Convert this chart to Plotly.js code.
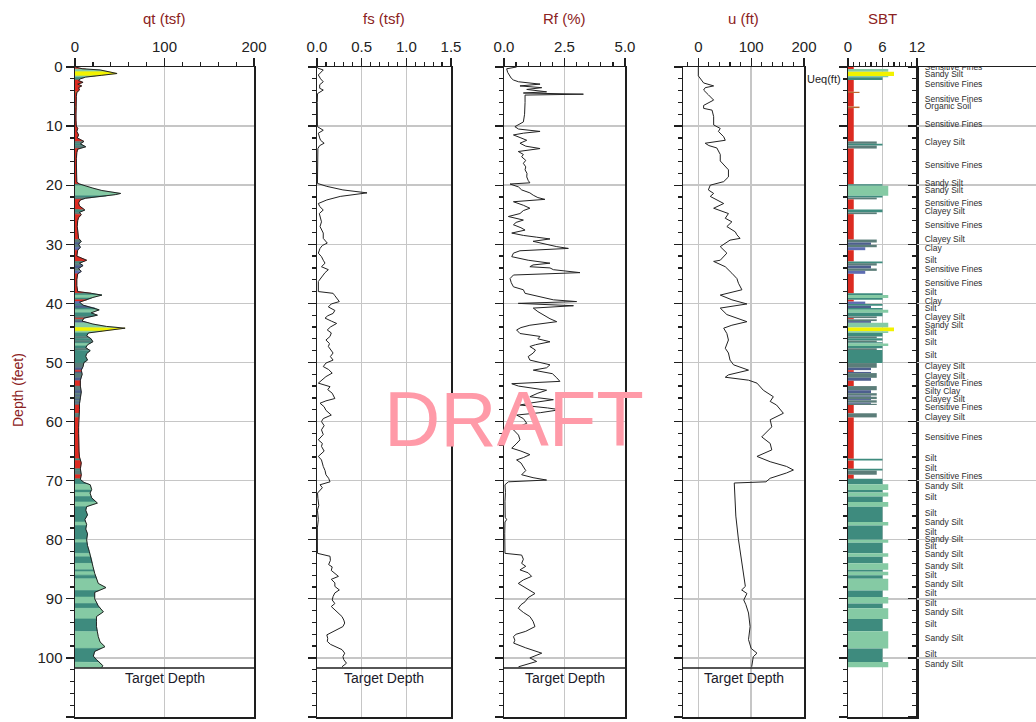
<!DOCTYPE html>
<html><head><meta charset="utf-8">
<script src="https://cdn.plot.ly/plotly-3.0.1.min.js"></script>
<style>html,body{margin:0;padding:0;background:#fff;} #chart{width:1036px;height:722px;}</style>
</head><body><div id="chart"></div>
<script>
// ---------------- DATA ----------------
const qtDepth = [0,0.3,0.5,0.8,1.1,1.4,1.7,2.0,2.3,2.6,
  2.9,3.2,3.5,3.9,4.3,5,6,7,8,9,
  10,10.4,10.9,11.5,12,12.6,13,13.5,13.9,14.5,
  15.5,16.5,17.5,18.5,19.5,19.8,20.1,20.5,20.9,21.2,
  21.4,21.6,21.9,22.2,22.5,23,23.5,24.2,24.6,25,
  25.5,26,27,28,29,29.5,30,30.5,31,32,
  32.7,33.2,33.6,34.1,34.6,35,36,37,38,38.3,
  38.6,39,39.4,39.8,40.3,40.8,41.1,41.6,42,42.5,
  43,43.5,43.9,44.2,44.6,45,45.5,46,46.5,47,
  47.5,48,48.5,49,49.6,50,50.7,51.3,52,53,
  54,55,56,57,58,59,60,61,62,63,
  64,65,66,67,68,69,69.8,70.3,70.7,71.5,
  72.1,72.9,73.8,74.4,75,75.8,76.6,77.4,78.2,79,
  80,81,82,83.4,84.5,85.7,86.5,87.4,88.1,88.9,
  90,91.2,92.2,93,93.8,94.7,95.6,96.4,97.3,98.1,
  98.9,99.7,100.3,100.8,101.3,101.6];
const qtValue = [0.5,8,28,38,47,30,12,6,4,9,
  3,7.5,4,5,2,1.5,1.2,1.3,1,1,
  1.5,3,2,4,2.5,10,6,12,3,2,
  1.5,1.5,1.5,1.8,2,5,11,20,30,43,
  51,45,30,12,6,4,5,11,5,7,
  4,3,2.5,3,4,7,4,6,3,2,
  13,5,9,4,7,3,2,2,3,18,
  30,20,13,5,9,22,27,18,25,10,
  8,20,35,56,35,15,13,18,20,14,
  12,17,13,12,14,10,9,7,8,6,
  6,7,6,5,5,4.5,4,4,4,4,
  4,4.5,5,7,6,7,6,10,17,18.6,
  16.8,18.6,25,13,12,14,11,13,12,14,
  13,14,16,18.6,20,22,24,26,34.6,22,
  22,26,31.7,24,24,24,25,26,28,33.5,
  22,20.5,24,28,31,30];

const fsDepth = [0,0.2,0.5,1.0,1.35,2.0,2.5,3.0,3.6,3.9,
  4.5,6,8,10.1,10.7,11.2,12.0,12.4,12.9,13.3,
  13.8,16,19.7,20.2,20.8,21.3,21.6,21.9,22.5,23.1,
  23.6,24.2,24.8,25.5,26.2,27,27.5,28.1,29,29.8,
  30.2,30.7,31.5,32.1,32.7,33.2,33.8,34.3,34.8,35.2,
  36.3,38.0,38.3,38.7,39.1,39.7,40.1,40.6,41.2,41.7,
  42.1,42.5,43.0,43.4,44.0,44.5,45.0,45.6,46.2,46.8,
  47.3,47.9,48.4,49.0,49.6,50.1,50.7,51.2,51.8,52.4,
  53.0,53.5,54.1,54.6,55.2,56.1,56.5,56.9,57.5,58.1,
  58.9,59.5,60,60.7,61.4,62.2,63.1,63.7,64.2,65.0,
  65.9,66.5,67.6,68.3,69.0,69.6,70.2,70.7,71.2,72.1,
  73,74.2,75,76.6,78,80,82.3,82.8,83.5,84.2,
  84.6,85.2,85.7,86.2,86.7,87.3,87.9,88.5,89.0,89.6,
  90.2,90.8,91.3,91.9,92.4,93.0,93.6,94.1,94.7,95.3,
  96.1,96.7,97.2,97.7,98.1,98.6,99.2,99.8,100.3,100.9,
  101.5];
const fsValue = [0,0.01,0.07,0.03,0.015,0.04,0.07,0.03,0.03,0.07,
  0.006,0.003,0.003,0.005,0.07,0.015,0.03,0.04,0.08,0.03,
  0.01,0.005,0.005,0.11,0.29,0.56,0.38,0.26,0.11,0.015,
  0.03,0.07,0.026,0.04,0.05,0.034,0.05,0.07,0.07,0.115,
  0.06,0.034,0.015,0.05,0.07,0.09,0.05,0.127,0.09,0.07,
  0.015,0.015,0.18,0.2,0.22,0.25,0.16,0.127,0.2,0.18,
  0.12,0.09,0.16,0.22,0.15,0.115,0.16,0.146,0.1,0.14,
  0.127,0.16,0.18,0.15,0.18,0.1,0.07,0.13,0.17,0.1,
  0.05,0.015,0.146,0.12,0.17,0.2,0.1,0.034,0.08,0.1,
  0.16,0.07,0.05,0.08,0.05,0.07,0.015,0.06,0.05,0.08,
  0.015,0.05,0.07,0.09,0.1,0.13,0.146,0.034,0.06,0.006,
  0.01,0.02,0.005,0.015,0.004,0.004,0.005,0.146,0.15,0.13,
  0.17,0.16,0.2,0.24,0.16,0.2,0.2,0.25,0.2,0.18,
  0.17,0.2,0.16,0.2,0.24,0.28,0.3,0.31,0.29,0.22,
  0.11,0.12,0.115,0.15,0.2,0.28,0.31,0.29,0.3,0.33,
  0.28];

const rfDepth = [0,0.3,0.9,1.9,2.2,2.5,2.9,3.2,3.5,3.8,
  4.2,4.4,4.6,4.75,6,8,9.3,9.6,10.1,10.5,
  10.9,11.2,11.5,12.0,12.4,12.9,13.4,13.8,14.3,14.8,
  15.2,15.8,16.3,16.9,17.4,18.0,18.6,19.2,19.6,19.8,
  20.3,20.8,21.3,21.7,22.1,22.4,22.8,23.4,23.9,24.3,
  24.8,25.3,25.9,26.3,26.7,27.2,27.6,28.1,28.5,28.8,
  29.1,29.5,29.8,30.1,30.4,30.7,31.1,31.5,32.1,32.7,
  33.2,33.5,33.8,34.0,34.3,34.8,35.2,35.8,36.5,37.2,
  37.7,38.3,38.9,39.2,39.4,39.7,40.0,40.4,40.8,41.4,
  42.0,42.6,43.1,43.7,44.1,44.5,45.1,45.6,46.0,46.5,
  47.0,47.3,47.9,48.4,49.0,49.6,50.4,50.9,51.3,51.9,
  52.6,53.2,53.6,54.0,54.7,55.2,55.8,56.3,56.8,57.2,
  57.7,58.0,58.5,58.9,59.5,60.3,60.9,61.4,62.3,63.1,
  63.8,64.5,65.0,65.6,66.1,66.5,67.0,67.6,68.3,69.0,
  69.5,69.9,70.2,70.7,72,73.5,75,76.2,76.6,77.0,
  79,81,82.3,82.6,83.3,84.0,84.5,85.1,85.6,86.2,
  86.8,87.4,88.1,88.6,89.1,89.8,90.5,91.0,91.6,92.3,
  93.0,93.8,94.7,95.5,96.0,96.4,97.0,97.5,98.3,99.2,
  99.6,100.0,100.6,101.2,101.5];
const rfValue = [0.52,0.11,0.15,0.3,0.39,0.6,1.49,0.66,1.56,0.94,
  1.76,0.8,3.28,0.87,0.87,0.85,0.8,0.66,0.45,0.6,
  1.49,0.8,0.39,0.7,0.94,0.66,0.9,1.49,0.59,0.8,
  0.73,0.9,0.8,0.9,0.87,0.95,0.94,1.0,1.07,0.25,
  0.6,0.73,1.07,1.21,1.4,1.69,0.39,0.8,1.07,0.8,
  0.66,0.18,0.8,0.5,0.39,0.7,0.87,0.32,0.8,1.35,
  1.9,1.2,1.49,1.9,2.18,2.66,0.66,0.39,0.32,1.0,
  1.9,1.2,1.07,1.9,2.04,3.14,0.39,0.25,0.3,0.39,
  0.8,0.87,1.49,1.9,2.04,3.0,0.59,2.87,1.21,1.4,
  1.63,1.9,2.18,1.07,0.7,0.52,0.66,1.49,1.4,1.9,
  1.3,1.07,1.3,1.21,1.0,1.07,1.9,1.76,1.21,2.0,
  2.18,2.31,0.32,0.6,1.76,1.4,1.07,2.04,1.2,0.66,
  1.8,2.31,1.5,0.52,0.8,0.94,0.6,0.39,0.6,0.66,
  0.5,0.32,0.7,1.07,0.8,0.52,0.7,0.8,0.9,0.73,
  1.2,1.76,0.18,0.04,0.06,0.04,0.05,0.05,0.11,0.04,
  0.03,0.03,0.04,0.73,0.8,0.73,0.9,0.66,1.0,1.14,
  0.8,0.59,0.9,1.1,1.28,1.0,0.87,0.7,0.59,0.8,
  1.07,1.2,1.28,0.9,0.5,0.39,0.45,0.4,0.9,1.56,
  1.3,1.07,1.35,0.87,0.6];

const uDepth = [0,1.5,2.7,3.2,3.5,3.9,4.7,5.3,5.6,6.5,
  7.0,7.3,8.4,9.8,10.4,10.9,11.8,12.4,12.9,13.3,
  13.7,14.8,15.9,17.4,18.6,19.4,20.0,20.8,21.4,21.9,
  23.1,23.9,24.8,25.6,26.2,27.0,27.9,28.4,29.0,29.3,
  30.4,31.5,32.7,32.9,33.8,34.9,35.8,36.6,37.7,38.6,
  39.4,40.1,40.8,41.9,43.1,43.7,44.2,45.1,46.2,47.6,
  48.4,49.6,50.4,51.3,52.1,52.5,53.0,53.5,54.7,55.8,
  56.6,57.2,58.6,59.7,60.9,62.6,63.7,64.8,65.9,66.8,
  67.6,68.2,68.7,69.6,70.2,70.4,76,80.0,85.4,87.4,
  87.9,88.5,89.1,90.2,91.0,92.4,94.7,96.9,98.4,99.2,
  99.8,101.5];
const uValue = [0,0,10,29,13,10,19,26,29,10,
  10,26,29,29,41.5,38,48,51,13,20,
  35,41.5,41.5,57,57,48,22.6,19,29,22.6,
  48,29,57,51,63.5,54,70,73,79,60,
  41.5,54,41.5,29,51,63.5,73,76,82.5,41.5,
  63.5,92,41.5,54,92,63.5,48,54,57,51,
  57,60,66.7,95,57,51,95,111,123,142,
  136,148,161,136,139,120,136,139,111,136,
  167,180,167,136,128,68,71,76,84,87,
  89,82,92,86,90,95,98,95,100,111,
  104,101];

// SBT layers: boundaries (n+1) and zone of each layer (n)
const sbtBoundary = [0,0.34,0.79,1.52,1.75,2.2,4.2,4.4,6.7,6.95,
  12.6,13.0,13.3,13.8,19.85,20.1,21.8,22.1,22.4,24.1,
  24.6,24.9,29.2,29.7,30.1,30.5,31.0,32.9,33.2,33.6,
  34.1,34.5,35.0,38.3,38.6,39.1,39.4,39.7,40.1,40.4,
  40.8,41.1,41.6,42.2,42.5,42.7,43.0,43.3,44.1,44.7,
  45.0,45.6,45.9,46.3,46.6,46.8,47.2,47.6,47.9,50.1,
  50.9,51.3,51.6,51.8,52.6,53.1,54.0,54.7,55.2,55.6,
  55.8,56.2,56.4,56.8,57.0,57.2,58.6,59.3,66.3,66.6,
  68.0,68.3,69.0,69.7,70.6,71.6,72.0,72.7,73.6,74.4,
  77.0,77.6,80.0,80.5,82.3,82.9,84.0,85.1,85.4,86.0,
  86.6,88.6,89.7,90.8,91.6,93.4,95.5,98.4,100.7,101.6];
const sbtZone = [1,7,8,7,6,1,2,1,2,1,
  5,6,5,1,6,7,6,5,1,6,
  5,1,5,4,5,3,1,6,5,4,
  5,3,1,6,7,6,1,3,6,4,
  6,7,6,5,1,5,4,7,8,7,
  6,5,6,5,6,7,6,5,6,5,
  4,1,4,5,4,1,5,4,5,4,
  5,4,5,4,5,1,5,1,6,1,
  6,5,1,6,7,6,7,6,7,6,
  7,6,7,6,7,6,7,6,7,6,
  7,6,7,6,7,6,7,6,7];

const sbtLabelDepth = [0.1,1.35,3.1,5.6,6.8,9.8,12.9,16.8,19.8,21.0,
  23.2,24.5,26.9,29.3,30.8,32.8,34.3,36.7,38.2,39.8,
  40.9,42.5,43.8,45.0,46.7,48.9,50.7,52.4,53.6,55.0,
  56.3,57.7,59.3,62.8,66.4,68.0,69.4,71.1,73.0,75.7,
  77.2,78.8,80.1,81.2,82.5,84.6,86.2,87.6,89.2,90.9,
  92.3,94.4,96.8,99.5,101.2];
const sbtLabelText = ['Sensitive Fines','Sandy Silt','Sensitive Fines','Sensitive Fines','Organic Soil','Sensitive Fines','Clayey Silt','Sensitive Fines','Sandy Silt','Sandy Silt',
  'Sensitive Fines','Clayey Silt','Sensitive Fines','Clayey Silt','Clay','Silt','Sensitive Fines','Sensitive Fines','Silt','Clay',
  'Silt','Clayey Silt','Sandy Silt','Silt','Silt','Silt','Clayey Silt','Clayey Silt','Sensitive Fines','Silty Clay',
  'Clayey Silt','Sensitive Fines','Clayey Silt','Sensitive Fines','Silt','Silt','Sensitive Fines','Sandy Silt','Silt','Silt',
  'Sandy Silt','Silt','Sandy Silt','Silt','Sandy Silt','Sandy Silt','Silt','Sandy Silt','Silt','Silt',
  'Sandy Silt','Silt','Sandy Silt','Silt','Sandy Silt'];

const targetDepth = 101.7;
const ueqDepth = 2.1;

// ---------------- STYLE ----------------
const W = 1036, H = 722, TOP = 67, BOT = 717;
const FONT = 'Arial, "Liberation Sans", sans-serif';
const zoneColor = {1:'#dc2b21',2:'#b8692e',3:'#5d6db2',4:'#4d5f8e',5:'#5b7d79',6:'#3e8b7e',7:'#85caa4',8:'#f2f200'};
const titleColor = '#8b2222';
const axisColor = '#1e1e1e';
const gridColor = '#c6c6c6';

function interp(ds, vs, d){
  for (let i = 1; i < ds.length; i++) {
    if (d <= ds[i]) { const t = (d - ds[i-1]) / (ds[i] - ds[i-1]); return vs[i-1] + t * (vs[i] - vs[i-1]); }
  }
  return vs[vs.length - 1];
}

const traces = [];
// qt fill colored by SBT zone
for (let i = 0; i < sbtZone.length; i++) {
  const t = sbtBoundary[i], b = sbtBoundary[i+1];
  const ys = [t, t], xs = [0, interp(qtDepth, qtValue, t)];
  qtDepth.forEach((d, k) => { if (d > t && d < b) { ys.push(d); xs.push(qtValue[k]); } });
  ys.push(b, b); xs.push(interp(qtDepth, qtValue, b), 0);
  const c = zoneColor[sbtZone[i]];
  traces.push({type:'scatter', mode:'lines', x:xs, y:ys, fill:'toself', fillcolor:c,
    line:{width:0.6, color:c}, xaxis:'x', yaxis:'y', hoverinfo:'skip', showlegend:false});
}
const lineStyle = {color:'#222', width:1};
traces.push({type:'scatter', mode:'lines', x:qtValue, y:qtDepth, line:lineStyle, xaxis:'x', yaxis:'y', hoverinfo:'skip'});
traces.push({type:'scatter', mode:'lines', x:fsValue, y:fsDepth, line:lineStyle, xaxis:'x2', yaxis:'y2', hoverinfo:'skip'});
traces.push({type:'scatter', mode:'lines', x:rfValue, y:rfDepth, line:lineStyle, xaxis:'x3', yaxis:'y3', hoverinfo:'skip'});
traces.push({type:'scatter', mode:'lines', x:uValue, y:uDepth, line:lineStyle, xaxis:'x4', yaxis:'y4', hoverinfo:'skip'});

// SBT bars
const mids = [], widths = [], cols = [];
for (let i = 0; i < sbtZone.length; i++) {
  mids.push((sbtBoundary[i] + sbtBoundary[i+1]) / 2);
  widths.push(sbtBoundary[i+1] - sbtBoundary[i]);
  cols.push(zoneColor[sbtZone[i]]);
}
traces.push({type:'bar', orientation:'h', x:sbtZone, y:mids, width:widths, base:0,
  marker:{color:cols, line:{width:0}}, xaxis:'x5', yaxis:'y5', hoverinfo:'skip'});

// SBT labels
traces.push({type:'scatter', mode:'text', x:sbtLabelDepth.map(() => 0.065), y:sbtLabelDepth, text:sbtLabelText,
  textposition:'middle right', textfont:{family:FONT, size:8.5, color:'#2e2e2e'}, cliponaxis:true,
  xaxis:'x6', yaxis:'y6', hoverinfo:'skip'});

// ---------------- LAYOUT ----------------
const panels = [
  {px:[75,254], range:[0,200], dtick:100, minor:20, title:'qt (tsf)'},
  {px:[317,451], range:[0,1.5], dtick:0.5, minor:0.1, title:'fs (tsf)', fmt:'.1f'},
  {px:[504,625], range:[0,5], dtick:2.5, minor:0.5, title:'Rf (%)', fmt:'.1f'},
  {px:[683,804], range:[-29,200], dtick:100, minor:20, title:'u (ft)'},
  {px:[848,917], range:[0,12], dtick:6, minor:1, title:'SBT'},
];
const layout = {
  width:W, height:H, margin:{l:0, r:0, t:TOP, b:H-BOT, pad:0},
  paper_bgcolor:'#fff', plot_bgcolor:'#fff', showlegend:false, hovermode:false,
  font:{family:FONT, color:'#222'}, shapes:[], annotations:[]
};
const tickFont = {family:FONT, size:15, color:'#222'};
panels.forEach((p, i) => {
  const n = i + 1, sx = n === 1 ? '' : String(n);
  layout['xaxis' + sx] = {
    domain:[p.px[0]/W, p.px[1]/W], range:p.range, side:'top', anchor:'y' + sx,
    showline:true, linecolor:axisColor, linewidth:1.5, mirror:true,
    ticks:'outside', ticklen:8, tickwidth:1.2, tickcolor:axisColor, dtick:p.dtick, tick0:0,
    tickformat:p.fmt || '', tickfont:tickFont,
    minor:{dtick:p.minor, tick0:0, ticks:'outside', ticklen:4, tickwidth:1.2, tickcolor:axisColor, showgrid:false},
    showgrid:true, gridcolor:gridColor, gridwidth:1.5, zeroline:false, fixedrange:true
  };
  layout['yaxis' + sx] = {
    domain:[0,1], range:[110,0], anchor:'x' + sx,
    showline:true, linecolor:axisColor, linewidth:1.5, mirror:true,
    ticks:'outside', ticklen:8, tickwidth:1.2, tickcolor:axisColor, dtick:10, tick0:0,
    showticklabels:n === 1, tickfont:tickFont,
    minor:{dtick:2, tick0:0, ticks:'outside', ticklen:4, tickwidth:1.2, tickcolor:axisColor, showgrid:false},
    showgrid:true, gridcolor:gridColor, gridwidth:1.5, zeroline:false, fixedrange:true
  };
  const cx = (p.px[0] + p.px[1]) / 2 / W;
  layout.annotations.push({xref:'paper', yref:'paper', x:cx, y:(BOT-18)/(BOT-TOP), text:p.title,
    showarrow:false, xanchor:'center', yanchor:'middle', font:{family:FONT, size:15, color:titleColor}});
  if (n <= 4) {
    layout.shapes.push({type:'line', xref:'x' + sx + ' domain', yref:'y' + sx, x0:0, x1:1, y0:targetDepth, y1:targetDepth,
      line:{color:axisColor, width:1.5}});
    layout.annotations.push({xref:'x' + sx + ' domain', yref:'y' + sx, x:0.5, y:targetDepth, text:'Target Depth',
      showarrow:false, xanchor:'center', yanchor:'top', font:{family:FONT, size:14, color:'#1a1a2a'}});
  }
});
// label panel
layout.xaxis6 = {domain:[917/W, 1], range:[0,1], side:'top', anchor:'y6', showline:true, linecolor:axisColor,
  linewidth:1.5, mirror:false, ticks:'', showticklabels:false, showgrid:false, zeroline:false, fixedrange:true};
layout.yaxis6 = {domain:[0,1], range:[110,0], anchor:'x6', showline:true, linecolor:axisColor, linewidth:1.5,
  ticks:'outside', ticklen:8, tickwidth:1.2, tickcolor:axisColor, dtick:10, tick0:0, showticklabels:false,
  minor:{dtick:2, tick0:0, ticks:'outside', ticklen:4, tickwidth:1.2, tickcolor:axisColor, showgrid:false},
  showgrid:true, gridcolor:gridColor, gridwidth:1.5, zeroline:false, fixedrange:true};

// Depth title
layout.annotations.push({xref:'paper', yref:'paper', x:18/W, y:(BOT-390)/(BOT-TOP), text:'Depth (feet)', textangle:-90,
  showarrow:false, xanchor:'center', yanchor:'middle', font:{family:FONT, size:14, color:titleColor}});
// Ueq marker
layout.annotations.push({xref:'paper', yref:'y5', x:843/W, y:ueqDepth, text:'Ueq(ft)', showarrow:false,
  xanchor:'right', yanchor:'middle', font:{family:FONT, size:11, color:'#222'}});
layout.shapes.push({type:'line', xref:'paper', yref:'y5', x0:843/W, x1:848/W, y0:ueqDepth, y1:ueqDepth,
  line:{color:axisColor, width:1.2}});
// DRAFT watermark
layout.annotations.push({xref:'paper', yref:'paper', x:514/W, y:(BOT-419)/(BOT-TOP), text:'DRAFT', showarrow:false,
  xanchor:'center', yanchor:'middle', font:{family:FONT, size:78, color:'#ff9aa8'}});

Plotly.newPlot('chart', traces, layout, {displayModeBar:false, staticPlot:true});
</script>
</body></html>
